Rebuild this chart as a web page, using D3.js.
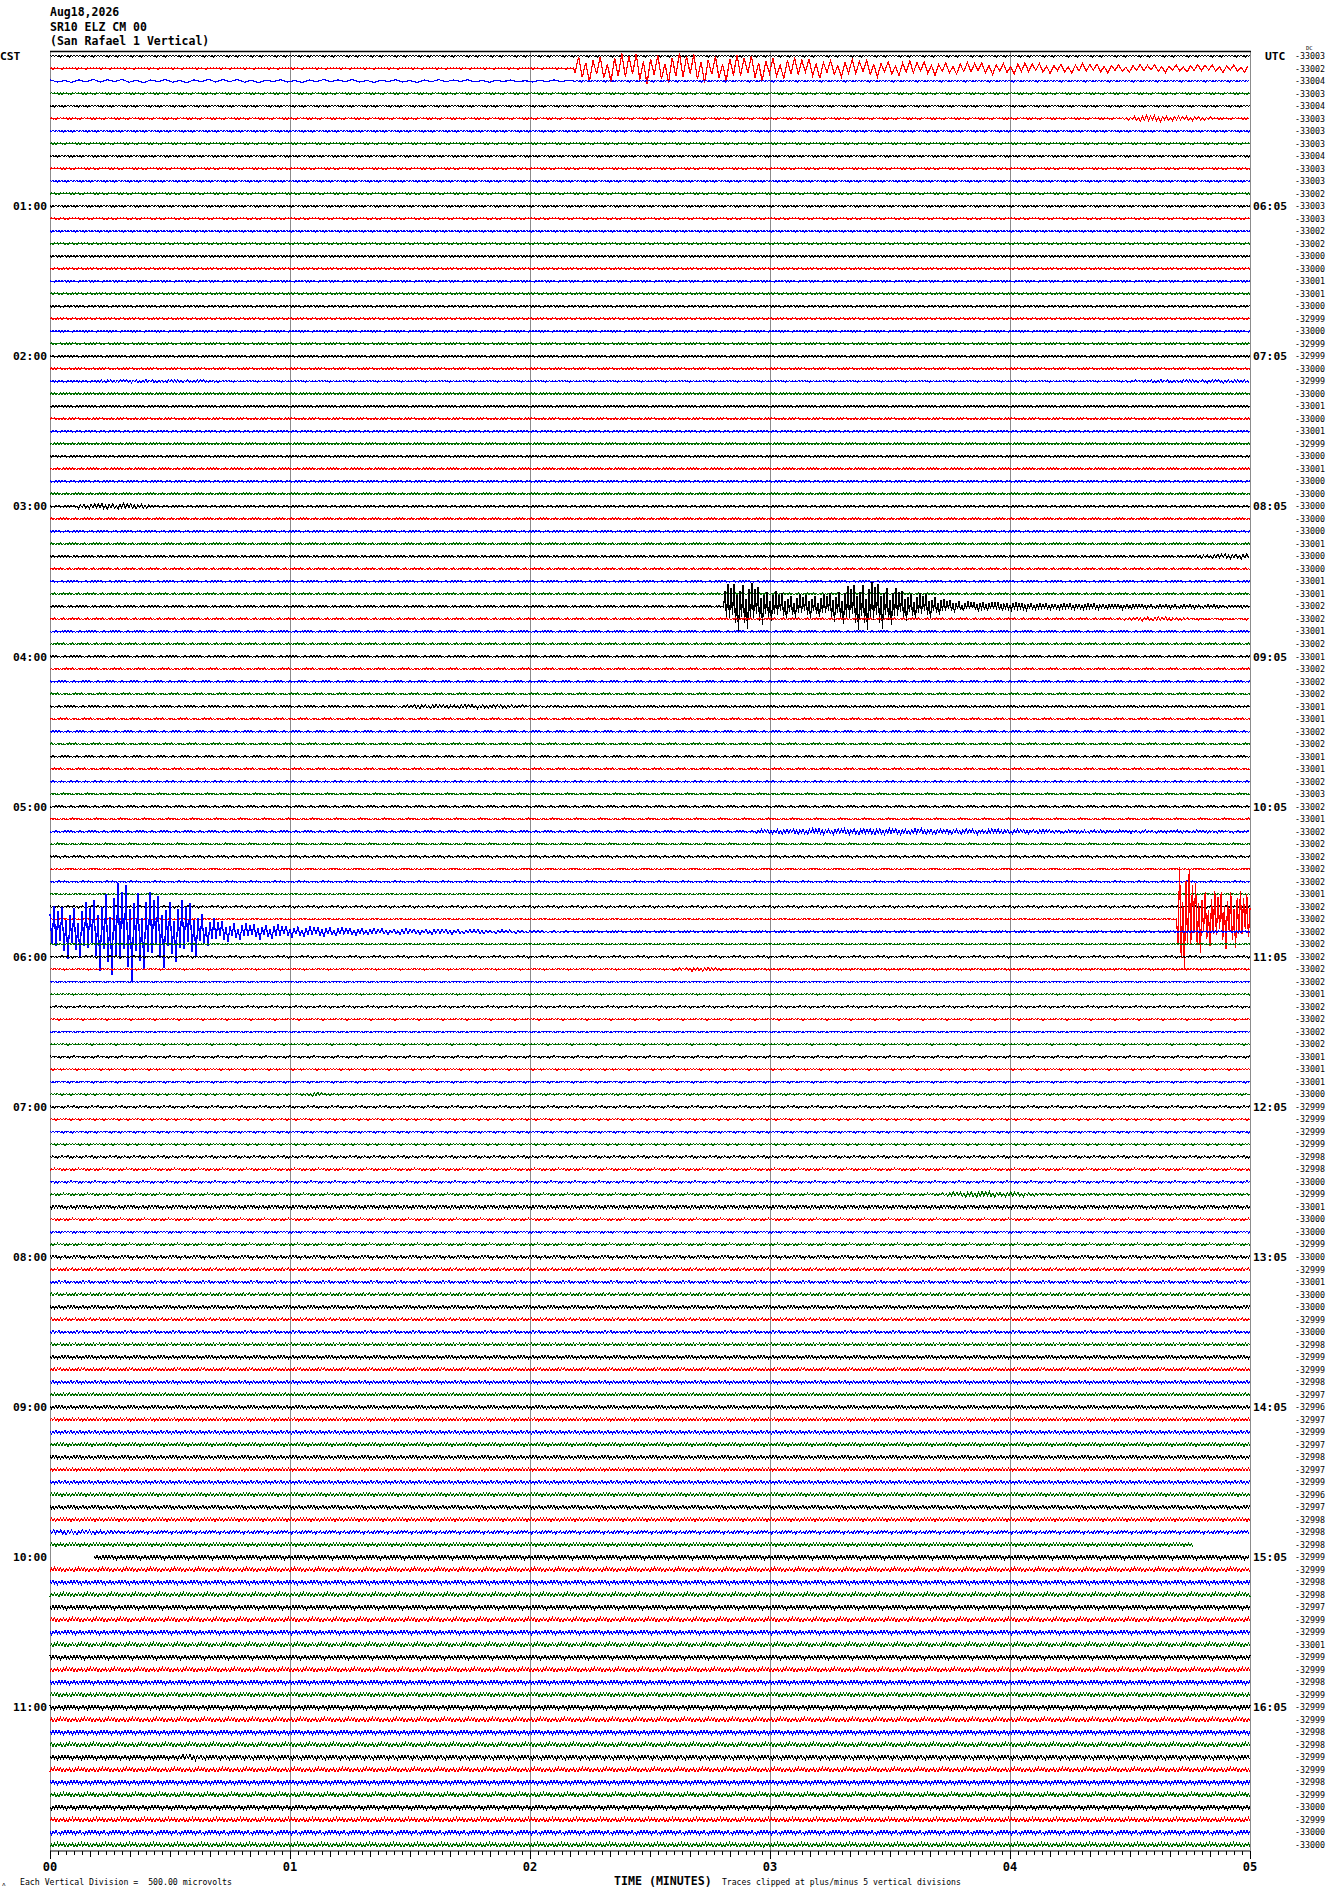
<!DOCTYPE html>
<html><head><meta charset="utf-8">
<script src="https://cdn.jsdelivr.net/npm/d3@7"></script>
<style>body{margin:0;background:#fff}svg{display:block}text{white-space:pre}</style>
</head><body><svg id="c" width="1330" height="1894"></svg>
<script>
// ---------------- data ----------------
const headerLines = ["Aug18,2026", "SR10 ELZ CM 00", "(San Rafael 1 Vertical)"];
const hourLabelsLeft = ["CST","01:00","02:00","03:00","04:00","05:00","06:00","07:00","08:00","09:00","10:00","11:00"];
const hourLabelsRight = ["UTC","06:05","07:05","08:05","09:05","10:05","11:05","12:05","13:05","14:05","15:05","16:05"];
const minuteLabels = ["00","01","02","03","04","05"];
const traceColors = ["#000000", "#ff0000", "#0000ff", "#006f00"];

// right-hand DC offset label for each of the 144 five-minute lines
const traceOffsets = [
 -33003,-33002,-33004,-33003,-33004,-33003,-33003,-33003,-33004,-33003,-33003,-33002,
 -33003,-33003,-33002,-33002,-33000,-33000,-33001,-33001,-33000,-32999,-33000,-32999,
 -32999,-33000,-32999,-33000,-33001,-33000,-33001,-32999,-33000,-33001,-33000,-33000,
 -33000,-33000,-33000,-33001,-33000,-33000,-33001,-33001,-33002,-33002,-33001,-33002,
 -33001,-33002,-33002,-33002,-33001,-33001,-33002,-33002,-33001,-33001,-33002,-33003,
 -33002,-33001,-33002,-33002,-33002,-33002,-33002,-33001,-33002,-33002,-33002,-33002,
 -33002,-33002,-33002,-33001,-33002,-33002,-33002,-33002,-33001,-33001,-33001,-33000,
 -32999,-32999,-32999,-32999,-32998,-32998,-33000,-32999,-33001,-33000,-33000,-32999,
 -33000,-32999,-33001,-33000,-33000,-32999,-33000,-32998,-32999,-32999,-32998,-32997,
 -32996,-32997,-32999,-32997,-32998,-32997,-32999,-32996,-32997,-32998,-32998,-32998,
 -32999,-32999,-32998,-32998,-32997,-32999,-32999,-33001,-32999,-32999,-32998,-32999,
 -32999,-32999,-32998,-32998,-32999,-32999,-32998,-32999,-33000,-32999,-33000,-33000
];

// background noise half-amplitude of each line, microvolts
const noiseLevel = [
 40,30,35,35,40,35,35,35,40,35,35,35,
 40,35,35,35,40,35,35,35,40,35,35,35,
 40,35,35,40,45,35,35,35,40,35,35,35,
 40,35,35,35,40,35,35,35,40,35,35,35,
 40,35,35,35,40,35,35,35,40,35,35,35,
 40,35,40,35,40,35,35,35,40,35,35,35,
 40,35,35,35,40,35,35,35,40,35,35,40,
 45,40,40,40,50,45,45,45,50,45,45,45,
 60,55,55,55,65,55,55,55,65,60,60,60,
 70,60,65,65,75,60,65,65,75,65,65,65,
 85,80,80,80,85,80,80,80,85,80,80,80,
 90,85,85,85,90,85,85,85,90,85,85,85
];

// events: line, start s, end s, half period s, envelope (microvolts, evenly spaced over the span)
const eventLines  = [1, 2, 5, 26, 26, 36, 40, 44, 45, 52, 62, 62, 69, 70, 73, 83, 91, 92, 118, 136];
const eventStart  = [131, 0, 268, 12, 268, 7, 286, 168.6, 268, 84, 176, 250, 282, 0, 156, 63, 223, 0, 0, 30];
const eventEnd    = [300, 130, 291, 42, 300, 25, 300, 300, 285, 126, 250, 300, 300, 130, 169, 69, 247, 300, 20, 39];
const eventHalf   = [0.9, 1.8, 0.5, 0.4, 0.4, 0.45, 0.45, 0.375, 0.45, 0.45, 0.4, 0.4, 0.4, 0.5, 0.45, 0.45, 0.45, 0.375, 0.45, 0.45];
const eventEnv = [
 [480,600,640,600,560,480,400,360,320,280,240,240,200,200,160,160,160,160],
 [60,70,70,60,60,50,40],
 [40,120,120,100,80,60],
 [60,60,60,50],
 [40,60,60,60],
 [80,120,120,80],
 [60,100,100],
 [880,1040,720,520,480,480,800,1040,880,600,520,280,200,200,160,140,120,120,120,100,100,80,80,80,72,60,60],
 [40,80,80,40],
 [40,80,80,80,60,40],
 [80,120,120,110,100,80],
 [70,60,50],
 [2500,2200,1600,1300,1200,1100,1200,1300,1100,1000],
 [1000,1100,1200,1900,2000,1600,1400,1200,560,400,320,320,240,200,200,160,140,120,120,120,100,100,80,80,60,50,40],
 [40,80,80,40],
 [40,80,80,40],
 [60,120,120,100,60],
 [70,80,80,70],
 [100,100,80,60],
 [60,120,120,60]
];

// data gaps: line, from s, to s
const gapLines = [119, 120];
const gapFrom  = [285.75, 0];
const gapTo    = [300, 11];

// stroke texture for the wiggle drawing
const wiggle = [1,-0.55,0.8,-0.35,0.95,-0.7,0.45,-1,0.6,-0.4,0.85,-0.65,0.3,-0.9,0.7,-0.5];

// ---------------- drawing ----------------
const svg = d3.select("#c");
svg.append("rect").attr("width",1330).attr("height",1894).attr("fill","#fff");

const nLines = traceOffsets.length;
const x = d3.scaleLinear().domain([0, 300]).range([50, 1250]);
const row = d3.scaleLinear().domain([0, nLines - 1]).range([56, 1845]);
const div = (row(1) - row(0));
const uv = d3.scaleLinear().domain([-2500, 2500]).range([5 * div, -5 * div]);

const mono = "'DejaVu Sans Mono','Liberation Mono',monospace";

// grid lines (minutes)
svg.append("g").selectAll("line").data(d3.range(0, 6)).join("line")
  .attr("x1", d => x(d * 60) + 0.5).attr("x2", d => x(d * 60) + 0.5)
  .attr("y1", 51).attr("y2", 1851)
  .attr("stroke", "#8c8c8c").attr("stroke-width", 1);
// top frame
svg.append("line").attr("x1", 50).attr("x2", 1251).attr("y1", 51.5).attr("y2", 51.5)
  .attr("stroke", "#000").attr("stroke-width", 1.5);

// traces
const line = d3.line().x(d => x(d[0])).y(d => d[1]);
const traceG = svg.append("g");
for (let i = 0; i < nLines; i++) {
  const evs = [];
  eventLines.forEach((l, k) => {
    if (l === i) {
      const env = eventEnv[k];
      const s = d3.scaleLinear()
        .domain(env.map((_, j) => eventStart[k] + j * (eventEnd[k] - eventStart[k]) / (env.length - 1)))
        .range(env).clamp(true);
      evs.push({a: eventStart[k], b: eventEnd[k], h: eventHalf[k], s});
    }
  });
  let t0 = 0, t1 = 300;
  gapLines.forEach((l, k) => {
    if (l === i) { if (gapFrom[k] <= 0) t0 = gapTo[k]; else t1 = gapFrom[k]; }
  });
  const base = row(i);
  const pts = [];
  let t = t0, k = i * 5;
  while (t <= t1) {
    let a = noiseLevel[i], h = 0.375;
    for (const e of evs) {
      if (t >= e.a && t <= e.b) { const v = e.s(t); if (v > a) { a = v; h = e.h; } }
    }
    let v = a * wiggle[k % wiggle.length];
    v = Math.max(-2500, Math.min(2500, v));
    pts.push([t, base + uv(v) - uv(0)]);
    k++;
    t += h;
  }
  traceG.append("path").attr("d", line(pts))
    .attr("fill", "none").attr("stroke", traceColors[i % 4])
    .attr("stroke-width", 1.2).attr("stroke-linejoin", "miter")
    .attr("shape-rendering", "crispEdges");
}

// header
svg.append("g").selectAll("text").data(headerLines).join("text")
  .attr("x", 50).attr("y", (d, i) => 16 + i * 14.5)
  .attr("font-family", mono).attr("font-weight", "bold").attr("font-size", 11.5)
  .text(d => d);

// hour labels
const hourIdx = d3.range(0, 12).map(h => h * 12);
svg.append("g").selectAll("text").data(hourIdx).join("text")
  .attr("x", (d, i) => i === 0 ? 0 : 47).attr("y", d => row(d) + 4)
  .attr("text-anchor", (d, i) => i === 0 ? "start" : "end")
  .attr("font-family", mono).attr("font-weight", "bold").attr("font-size", 11.3)
  .text((d, i) => hourLabelsLeft[i]);
svg.append("g").selectAll("text").data(hourIdx).join("text")
  .attr("x", (d, i) => i === 0 ? 1265 : 1253).attr("y", d => row(d) + 4)
  .attr("font-family", mono).attr("font-weight", "bold").attr("font-size", 11.3)
  .text((d, i) => hourLabelsRight[i]);

// right offset values
svg.append("g").selectAll("text").data(traceOffsets).join("text")
  .attr("x", 1295).attr("y", (d, i) => row(i) + 3)
  .attr("font-family", mono).attr("font-size", 8.3)
  .text(d => d);
svg.append("text").attr("x", 1306).attr("y", 50).attr("font-family", mono).attr("font-size", 5.5).text("DC");

// bottom axis
const axisY = 1851;
const ax = svg.append("g").attr("transform", `translate(0,${axisY})`);
ax.append("line").attr("x1", 50).attr("x2", 1250).attr("stroke", "#000");
ax.selectAll("line.t").data(d3.range(0, 301, 2)).join("line").attr("class", "t")
  .attr("x1", d => Math.round(x(d)) + 0.5).attr("x2", d => Math.round(x(d)) + 0.5)
  .attr("y1", 0).attr("y2", d => d % 60 === 0 ? 8 : (d % 10 === 0 ? 6 : 4))
  .attr("stroke", "#000");
ax.selectAll("text").data(d3.range(0, 6)).join("text")
  .attr("x", d => x(d * 60)).attr("y", 20).attr("text-anchor", "middle")
  .attr("font-family", mono).attr("font-weight", "bold").attr("font-size", 12)
  .text(d => minuteLabels[d]);

// footer
svg.append("text").attr("x", 20).attr("y", 1885).attr("font-family", mono).attr("font-size", 8.2)
  .text("Each Vertical Division =  500.00 microvolts");
svg.append("text").attr("x", 614).attr("y", 1885).attr("font-family", mono).attr("font-weight", "bold").attr("font-size", 11.6)
  .text("TIME (MINUTES)");
svg.append("text").attr("x", 722).attr("y", 1885).attr("font-family", mono).attr("font-size", 8.1)
  .text("Traces clipped at plus/minus 5 vertical divisions");
svg.append("text").attr("x", 2).attr("y", 1886).attr("font-family", mono).attr("font-size", 6).text("ᴧ");
</script></body></html>
